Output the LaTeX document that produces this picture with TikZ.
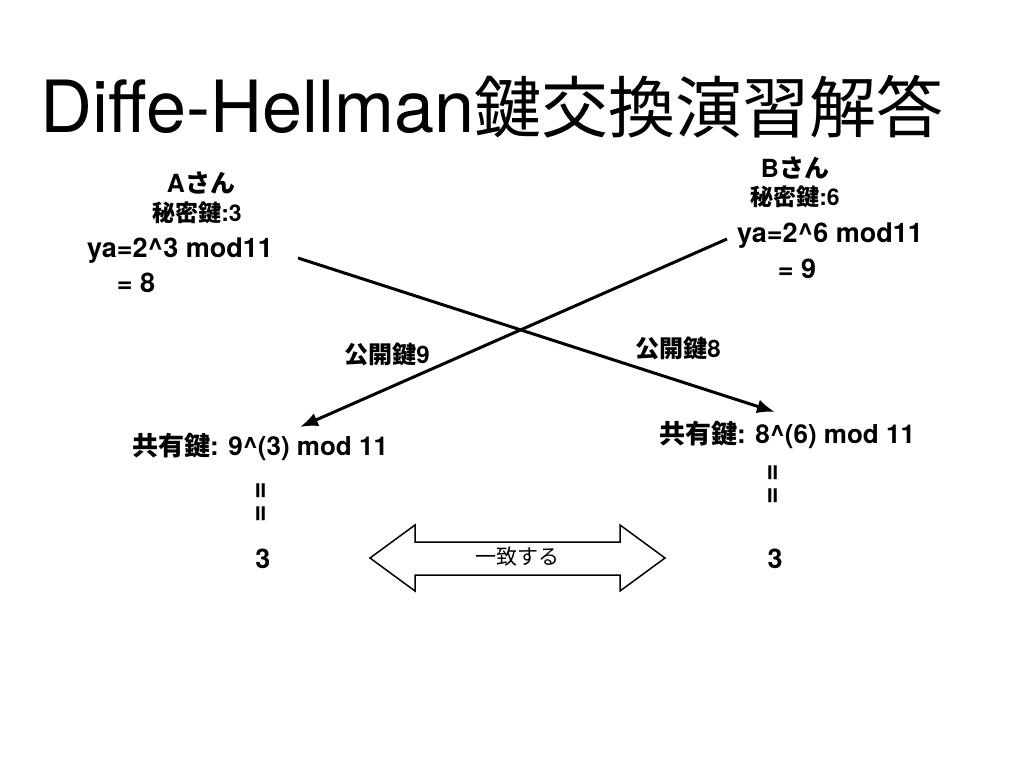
\documentclass[tikz,border=0pt]{standalone}
\usepackage{fontspec}
\setmainfont{TeX Gyre Heros}
\newfontfamily\jp{Noto Sans CJK JP}
\newfontfamily\jpb{Noto Sans CJK JP Bold}
\usetikzlibrary{arrows.meta}
\begin{document}
\begin{tikzpicture}[x=1pt,y=-1pt,
  lbl/.style={anchor=base,inner sep=0pt,font=\fontsize{23}{26}\selectfont\bfseries},
  calc/.style={anchor=base,inner sep=0pt,font=\fontsize{27}{30}\selectfont\bfseries},
  eqbar/.style={inner sep=0pt,rotate=90,font=\fontsize{30}{30}\selectfont\bfseries},
  send/.style={line width=3pt,-{Latex[length=18pt,width=14pt]}},
  ]
\useasboundingbox (0,0) rectangle (1024,768);

% title
\node[anchor=base west,inner sep=0pt,font=\fontsize{72}{80}\selectfont] (title) at (40,132)
  {Diffe-Hellman{\jp\fontsize{67}{80}\selectfont 鍵交換演習解答}};

% party A
\node[lbl,font=\fontsize{25}{28}\selectfont\bfseries] (aname) at (201,192) {A{\jpb さん}};
\node[lbl] (asec) at (197,221) {{\jpb 秘密鍵}:3};
\node[calc] (acalc) at (180,257) {ya=2\^{}3 mod11};
\node[calc] (aval) at (136,292) {= 8};

% party B
\node[lbl,font=\fontsize{25}{28}\selectfont\bfseries] (bname) at (795,177) {B{\jpb さん}};
\node[lbl] (bsec) at (795,205) {{\jpb 秘密鍵}:6};
\node[calc] (bcalc) at (830,242) {ya=2\^{}6 mod11};
\node[calc] (bval) at (797,278) {= 9};

% exchanged public keys
\coordinate (afrom) at (298,258);
\coordinate (bto) at (775,412);
\coordinate (bfrom) at (727,239);
\coordinate (ato) at (300,427);
\draw[send] (afrom) -- (bto);
\draw[send] (bfrom) -- (ato);
\node[lbl,font=\fontsize{24}{26}\selectfont\bfseries] (pub9) at (387,363) {{\jpb 公開鍵}9};
\node[lbl,font=\fontsize{24}{26}\selectfont\bfseries] (pub8) at (678,357) {{\jpb 公開鍵}8};

% shared keys
\node[calc,font=\fontsize{26}{28}\selectfont\bfseries] (ashare) at (260,455) {{\jpb 共有鍵}: 9\^{}(3) mod 11};
\node[eqbar] (aeq1) at (263,491) {=};
\node[eqbar] (aeq2) at (263,514) {=};
\node[calc,anchor=center] (ares) at (263,559) {3};

\node[calc,font=\fontsize{26}{28}\selectfont\bfseries] (bshare) at (787,443) {{\jpb 共有鍵}: 8\^{}(6) mod 11};
\node[eqbar] (beq1) at (775,473) {=};
\node[eqbar] (beq2) at (775,496) {=};
\node[calc,anchor=center] (bres) at (775,559) {3};

% agreement arrow
\draw[line width=1.5pt,line join=miter]
  (370,558) -- (415,525) -- (415,542) -- (620,542) -- (620,525) -- (665,558)
  -- (620,591) -- (620,575) -- (415,575) -- (415,591) -- cycle;
\node[inner sep=0pt,font=\jp\fontsize{21}{24}\selectfont] (agree) at (517,557) {一致する};
\end{tikzpicture}
\end{document}
